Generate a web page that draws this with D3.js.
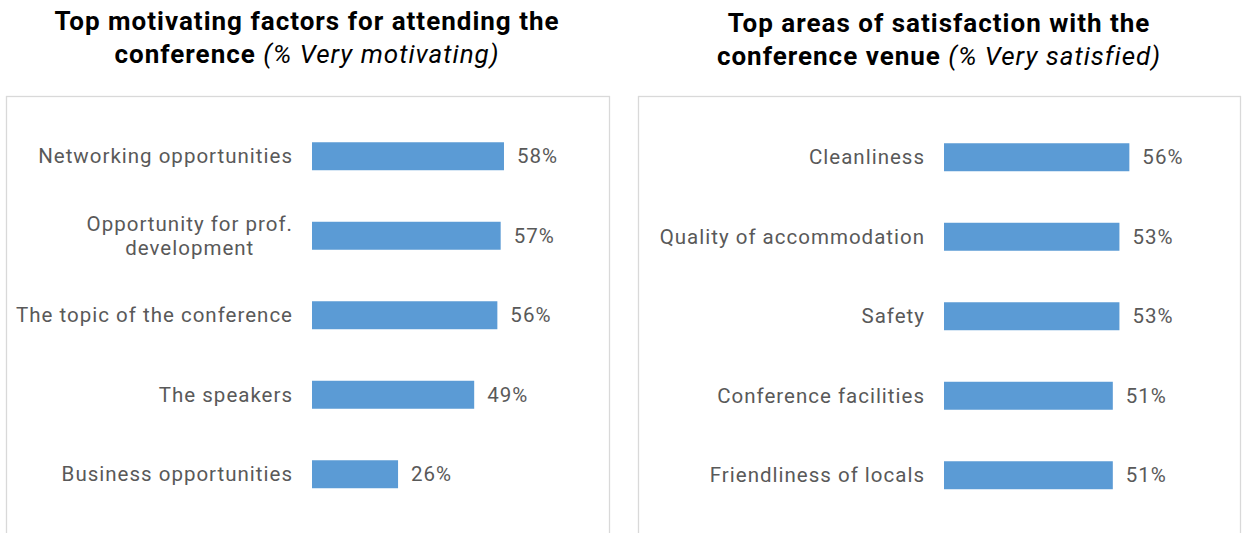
<!DOCTYPE html>
<html>
<head>
<meta charset="utf-8">
<script src="https://cdn.jsdelivr.net/npm/d3@7"></script>
<style>
  body { margin: 0; background: #fff; }
  svg { display: block; }
  .title { font-family: Roboto, "Liberation Sans", sans-serif; font-size: 26px; letter-spacing: 1px; fill: #000; }
  .label, .value { font-family: Roboto, "Liberation Sans", sans-serif; font-size: 20.5px; letter-spacing: 1px; fill: #595959; }
</style>
</head>
<body>
<svg width="1242" height="533"></svg>
<script>
// Left chart data
const motivCategories = [
    'Networking opportunities',
    'Opportunity for prof.|development',
    'The topic of the conference',
    'The speakers',
    'Business opportunities'
];
const motivValues = [58, 57, 56, 49, 26];

// Right chart data
const venueCategories = [
    'Cleanliness',
    'Quality of accommodation',
    'Safety',
    'Conference facilities',
    'Friendliness of locals'
];
const venueValues = [56, 53, 53, 51, 51];

const svg = d3.select("svg");

const panels = [
    {
        left: 6, right: 609, barX: 312, y0: 116.5,
        titleX: 307, title: ['Top motivating factors for attending the', 'conference'],
        sub: ' (% Very motivating)', titleY: [30, 63],
        cats: motivCategories, vals: motivValues
    },
    {
        left: 638, right: 1240, barX: 944, y0: 117.5,
        titleX: 939, title: ['Top areas of satisfaction with the', 'conference venue'],
        sub: ' (% Very satisfied)', titleY: [32, 65],
        cats: venueCategories, vals: venueValues
    }
];

panels.forEach(p => {
    const g = svg.append("g");

    g.append("rect")
        .attr("x", p.left + 0.5)
        .attr("y", 96.5)
        .attr("width", p.right - p.left)
        .attr("height", 500)
        .attr("fill", "none")
        .attr("stroke", "#d9d9d9")
        .attr("stroke-width", 1.3);

    // title
    g.append("text").attr("class", "title")
        .attr("x", p.titleX).attr("y", p.titleY[0])
        .attr("text-anchor", "middle").attr("font-weight", "bold")
        .text(p.title[0]);
    const t2 = g.append("text").attr("class", "title")
        .attr("x", p.titleX).attr("y", p.titleY[1])
        .attr("text-anchor", "middle");
    t2.append("tspan").attr("font-weight", "bold").text(p.title[1]);
    t2.append("tspan").attr("font-style", "italic").text(p.sub);

    const data = p.cats.map((c, i) => ({ name: c, value: p.vals[i] }));

    const x = d3.scaleLinear().domain([0, 100]).range([p.barX, p.barX + 331]);
    const y = d3.scaleBand()
        .domain(p.cats)
        .range([p.y0, p.y0 + 5 * 79.5])
        .paddingInner(0.648)
        .paddingOuter(0.324);

    g.selectAll(".bar")
        .data(data)
        .enter().append("rect")
        .attr("class", "bar")
        .attr("x", x(0))
        .attr("y", d => y(d.name))
        .attr("width", d => x(d.value) - x(0))
        .attr("height", y.bandwidth())
        .attr("fill", "#5b9bd5");

    g.selectAll(".value")
        .data(data)
        .enter().append("text")
        .attr("class", "value")
        .attr("x", d => x(d.value) + 13)
        .attr("y", d => y(d.name) + y.bandwidth() / 2)
        .attr("dy", "0.35em")
        .text(d => d.value + "%");

    const cx = x(0) - 19;
    g.selectAll(".label")
        .data(data)
        .enter().append("text")
        .attr("class", "label")
        .attr("text-anchor", "end")
        .attr("x", cx)
        .attr("y", d => y(d.name) + y.bandwidth() / 2)
        .each(function(d) {
            const lines = d.name.split('|');
            const sel = d3.select(this);
            if (lines.length === 1) {
                sel.attr("dy", "0.35em").text(lines[0]);
            } else {
                // two-line label, second line centred under the first
                sel.attr("dy", "-0.22em").text(lines[0]);
                const w = this.getComputedTextLength();
                g.append("text")
                    .attr("class", "label")
                    .attr("text-anchor", "middle")
                    .attr("x", cx - w / 2)
                    .attr("y", y(d.name) + y.bandwidth() / 2)
                    .attr("dy", "0.92em")
                    .text(lines[1]);
            }
        });
});
</script>
</body>
</html>
